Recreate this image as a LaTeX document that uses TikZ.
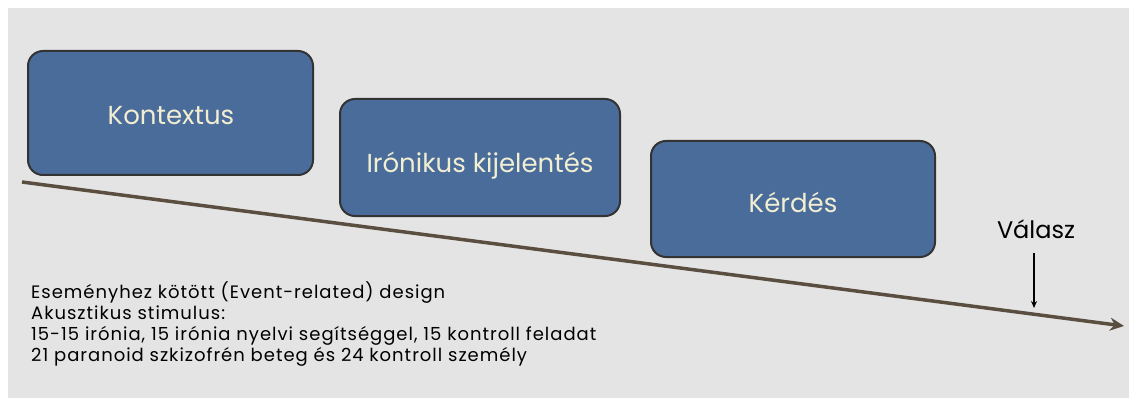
\documentclass[tikz,border=0pt]{standalone}
\usepackage{fontspec}
\setmainfont{Poppins}
\newfontfamily\notesfont[LetterSpace=5.5]{Poppins}
\usetikzlibrary{arrows.meta}
\definecolor{bgray}{HTML}{E4E4E4}
\definecolor{boxblue}{HTML}{4A6C9B}
\definecolor{boxedge}{HTML}{333333}
\definecolor{boxtext}{HTML}{F2EED2}
\definecolor{timeline}{HTML}{5A4E40}
\tikzset{
  stage/.style={draw=boxedge, line width=2pt, fill=boxblue, rounded corners=15pt, inner sep=0pt},
  stagetext/.style={text=boxtext, font=\fontsize{26}{30}\selectfont, inner sep=0pt},
  timearrow/.style={draw=timeline, line width=3.5pt, -{Stealth[length=14pt,width=13pt]}},
  resparrow/.style={draw=black, line width=1.5pt, -{Stealth[length=7pt,width=6pt]}},
}
\begin{document}
\begin{tikzpicture}[x=1pt,y=-1pt]
\useasboundingbox (0,0) rectangle (1129,398);
\fill[white] (0,0) rectangle (1129,398);
\fill[bgray] (8,8) rectangle (1129,398);
% boxes
\node[stage, minimum width=285pt, minimum height=124pt] (b1) at (170.5,113) {};
\node[stage, minimum width=280pt, minimum height=117pt] (b2) at (480,157.5) {};
\node[stage, minimum width=284pt, minimum height=116pt] (b3) at (793,199) {};
\node[stagetext] (t1) at (171,116) {Kontextus};
\node[stagetext] (t2) at (480,166) {Irónikus kijelentés};
\node[stagetext] (t3) at (793,202) {Kérdés};
% timeline
\coordinate (ls) at (22,182);
\coordinate (le) at (1124,326);
\draw[timearrow] (ls) -- (le);
% response
\node[font=\fontsize{24}{28}\selectfont, inner sep=0pt] (val) at (1036,229) {Válasz};
\coordinate (vtip) at (1034,308);
\draw[resparrow] (1034,253) -- (vtip);
% notes
\node[anchor=north west, align=left, inner sep=0pt, font=\notesfont\fontsize{18}{21}\selectfont] (notes) at (31,281)
{Eseményhez kötött (Event-related) design\\
Akusztikus stimulus:\\
15-15 irónia, 15 irónia nyelvi segítséggel, 15 kontroll feladat\\
21 paranoid szkizofrén beteg és 24 kontroll személy};
\end{tikzpicture}
\end{document}
